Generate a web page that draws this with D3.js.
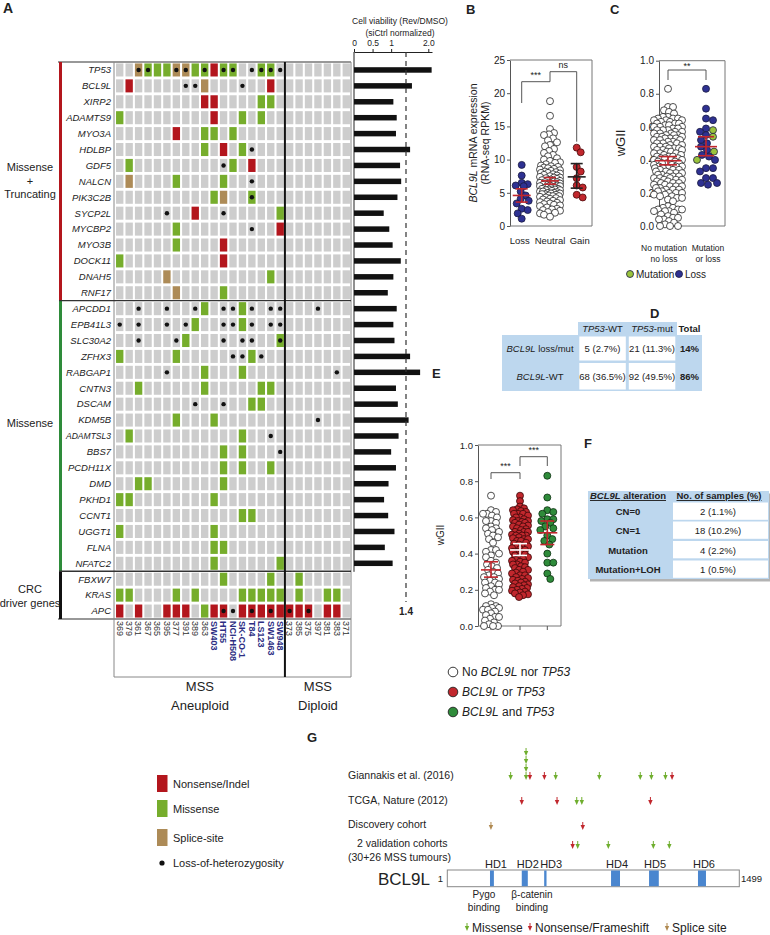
<!DOCTYPE html>
<html>
<head>
<meta charset="utf-8">
<script src="https://cdn.jsdelivr.net/npm/d3@7"></script>
<style>
  body { margin: 0; background: #fff; }
  text { font-family: "Liberation Sans", Arial, sans-serif; fill: #222; }
</style>
</head>
<body>
<script>
// ---------- panel A data ----------
const genes = ["TP53", "BCL9L", "XIRP2", "ADAMTS9", "MYO3A", "HDLBP", "GDF5", "NALCN", "PIK3C2B", "SYCP2L",
  "MYCBP2", "MYO3B", "DOCK11", "DNAH5", "RNF17",
  "APCDD1", "EPB41L3", "SLC30A2", "ZFHX3", "RABGAP1", "CNTN3", "DSCAM", "KDM5B", "ADAMTSL3", "BBS7",
  "PCDH11X", "DMD", "PKHD1", "CCNT1", "UGGT1", "FLNA", "NFATC2",
  "FBXW7", "KRAS", "APC"];
const groupSizes = [15, 17, 3];
const groupLabels = [["Missense", "+", "Truncating"], ["Missense"], ["CRC", "driver genes"]];
const samples = ["369", "379", "361", "367", "365", "395", "377", "391", "389", "363",
  "SW403", "HT55", "NCI-H508", "SK-CO-1", "T84", "LS123", "SW1463", "SW948",
  "373", "385", "375", "397", "381", "383", "371"];
const cellLines = ["SW403", "HT55", "NCI-H508", "SK-CO-1", "T84", "LS123", "SW1463", "SW948"];
const nAneuploid = 18;
// N = nonsense/indel, M = missense, S = splice-site (one char per sample)
const mutRows = [
  "..SMM MSSMM NMM.. MM... .....", // TP53
  ".N... ....S ..... .N... .....", // BCL9L
  "..... ....N N.... MM... .....", // XIRP2
  "M.... ..... N..M. M.... .....", // ADAMTS9
  "..... .N..M M.M.. ..... .....", // MYO3A
  "..... ....M .N.M. ..... .....", // HDLBP
  ".M... ..... ..M.N ..... .....", // GDF5
  ".S... .M... .M... ..... .....", // NALCN
  "..... ..... MS..M ..... .....", // PIK3C2B
  "..... ...N. ..... ..M.. .....", // SYCP2L
  "..... .M... ..... ..N.. .....", // MYCBP2
  "..... .M... .N... ..... .....", // MYO3B
  "M.... ..... .N... ..... .....", // DOCK11
  "..... S.... ..... .M... .....", // DNAH5
  "..... .S... .M... ..... .....", // RNF17
  "..... ....M ...M. ..... .....", // APCDD1
  "..... ...M. ...M. ..... .....", // EPB41L3
  "..... ..M.. ..... ..M.. .....", // SLC30A2
  "M.... .M... ....M ..... .....", // ZFHX3
  "..... ....M ...M. ..... .....", // RABGAP1
  "..M.. ....M ..... MM... .....", // CNTN3
  "..... ..... ....M M.... .....", // DSCAM
  "..... .M... M.... ..... .....", // KDM5B
  ".M... ..... ...M. ..... .....", // ADAMTSL3
  "..... ..... .M.M. ..... .....", // BBS7
  "..... ..... .M.M. .M... .....", // PCDH11X
  "..MM. ..... .M... ..... .....", // DMD
  "MM... ..... M.... ..... .....", // PKHD1
  "..... ..... ...MM ..... .....", // CCNT1
  "M.... ..... M.... ..... .....", // UGGT1
  "..... ..... MM... ..... .....", // FLNA
  "..... ..... M.... ..M.. .....", // NFATC2
  "..... ..... .M... .M..M .....", // FBXW7
  "MM... .M.M. ...MM MMM.M ..MM.", // KRAS
  "N.N.. NNN.M NN.NN NNNNN N.NN."  // APC
];
// * = loss of heterozygosity
const lohRows = [
  "..**. .**.* .**.* ***.. .....", // TP53
  "..... ..**. ...*. ..... .....", // BCL9L
  "..... ..... ..... ..... .....",
  "..... ..... ..... ..... .....",
  "..... ..... ..... ..... .....",
  "..... ..... ....* ..... .....", // HDLBP
  "..... ..... .*... ..... .....", // GDF5
  "..... ..... ....* ..... .....", // NALCN
  "..... ..... ....* ..... .....", // PIK3C2B
  "..... *.... .*... ..... .....", // SYCP2L
  "..... ..... ....* ..... .....", // MYCBP2
  "..... ..... ..... ..... .....",
  "..... ..... ..... ..... .....",
  "..... ..... ..... ..... .....",
  "..... ..... ..... ..... .....",
  "..*.. *..*. .**.* .**.. .*...", // APCDD1
  "*.*.. *.*.. .**.* .**.. .....", // EPB41L3
  "..*.. .*... .*.** ..*.. .....", // SLC30A2
  "..... ..... ..**. *.... .....", // ZFHX3
  "..... *.... ..... ..... ...*.", // RABGAP1
  "..... ..... ..... ..... .....",
  "..... ...*. .*... ..... .....", // DSCAM
  "..... ..... ..... ..... .*...", // KDM5B
  "..... ..... ..... .*... .....", // ADAMTSL3
  "..... ..... ..... ..*.. .....", // BBS7
  "..... ..... ..... ..... .....",
  "..... ..... ..... ..... .....",
  "..... ..... ..... ..... .....",
  "..... ..... ..... ..... .....",
  "..... ..... ..... ..... .....",
  "..... ..... ..... ..... .....",
  "..... ..... ..... ..... .....",
  "..... ..... ..... ..... .....",
  "..... ..... ..... ..... .....",
  "..... ..... .**.* .*.*. *...."  // APC
];
// cell viability (Rev/DMSO), one per gene except CRC driver genes
const viability = [2.09, 1.56, 1.06, 1.15, 1.13, 1.51, 1.24, 1.27, 1.17, 0.80, 0.95, 1.04, 1.26, 1.06, 0.91,
  1.15, 1.06, 1.09, 1.51, 1.78, 1.13, 1.18, 1.47, 1.20, 1.00, 1.13, 0.93, 0.81, 0.92, 1.09, 0.83, 1.04];
const viabTicks = [0, 0.5, 1, 2];
const viabTickLabels = ["0", "0.5", "1", "2.0"];
const viabThreshold = 1.4;

// ---------- panel B data ----------
const exprCats = ["Loss", "Neutral", "Gain"];
const exprLoss = [9.2, 7.6, 6.5, 6.3, 6.1, 6.0, 5.2, 4.6, 4.1, 3.8, 3.4, 2.6, 2.4, 1.9, 1.1];
const exprNeutral = [18.8, 16.6, 14.6, 14.0, 13.8, 13.7, 13.2, 12.9, 12.6, 12.2, 12.0, 11.6, 11.3, 11.0, 10.7,
  10.5, 10.2, 10.0, 9.8, 9.6, 9.5, 9.3, 9.1, 9.0, 8.9, 8.8, 8.7, 8.6, 8.5, 8.4, 8.3, 8.2, 8.1, 8.0, 7.9, 7.8,
  7.7, 7.6, 7.5, 7.4, 7.3, 7.2, 7.1, 7.0, 6.9, 6.9, 6.8, 6.7, 6.6, 6.5, 6.5, 6.4, 6.3, 6.2, 6.2, 6.1, 6.0,
  6.0, 5.9, 5.8, 5.8, 5.7, 5.6, 5.6, 5.5, 5.4, 5.4, 5.3, 5.2, 5.2, 5.1, 5.0, 5.0, 4.9, 4.8, 4.8, 4.7, 4.6,
  4.5, 4.5, 4.4, 4.3, 4.2, 4.1, 4.0, 3.9, 3.8, 3.7, 3.6, 3.5, 3.4, 3.3, 3.2, 3.1, 3.0, 2.8, 2.6, 2.5, 2.4,
  2.3, 2.1, 2.0, 1.9, 1.7, 1.4, 7.3, 6.6, 5.5, 4.9, 6.1, 8.0];
const exprGain = [11.8, 11.1, 8.9, 8.2, 7.2, 6.1, 5.8, 4.7, 4.3];
const exprMean = [4.6, 6.8, 7.4];
const exprLow = [3.6, 6.3, 5.7];
const exprHigh = [5.6, 7.3, 9.4];
const exprTicks = [0, 5, 10, 15, 20, 25];

// ---------- panel C data ----------
const wgiiNoMut = [0.83, 0.72, 0.72, 0.70, 0.69, 0.68, 0.66, 0.66, 0.65, 0.65, 0.65, 0.64, 0.64, 0.64, 0.63,
  0.63, 0.62, 0.62, 0.62, 0.61, 0.61, 0.60, 0.60, 0.60, 0.59, 0.59, 0.58, 0.58, 0.57, 0.57, 0.56, 0.56, 0.55,
  0.55, 0.55, 0.54, 0.54, 0.53, 0.53, 0.52, 0.52, 0.51, 0.51, 0.50, 0.50, 0.49, 0.49, 0.48, 0.48, 0.47, 0.47,
  0.46, 0.46, 0.45, 0.45, 0.44, 0.44, 0.43, 0.43, 0.42, 0.42, 0.41, 0.41, 0.40, 0.40, 0.39, 0.39, 0.38, 0.38,
  0.37, 0.37, 0.36, 0.36, 0.35, 0.35, 0.34, 0.34, 0.33, 0.33, 0.32, 0.32, 0.31, 0.31, 0.30, 0.30, 0.29, 0.29,
  0.28, 0.28, 0.27, 0.27, 0.26, 0.26, 0.25, 0.25, 0.24, 0.24, 0.23, 0.23, 0.22, 0.22, 0.21, 0.21, 0.20, 0.20,
  0.20, 0.19, 0.19, 0.18, 0.18, 0.17, 0.17, 0.16, 0.15, 0.12, 0.11, 0.11, 0.10, 0.10, 0.10, 0.09, 0.09, 0.09,
  0.08, 0.07, 0.06, 0.05, 0.05, 0.04, 0.04, 0.03, 0.02, 0.01, 0.00, 0.00, 0.00,
  0.58, 0.56, 0.54, 0.52, 0.50, 0.48, 0.46, 0.44, 0.42, 0.40, 0.38, 0.36, 0.34, 0.32, 0.30, 0.28, 0.26, 0.24,
  0.22, 0.53, 0.47, 0.41, 0.35, 0.29];
const wgiiMutLoss = [0.83, 0.71, 0.65, 0.64, 0.59, 0.58, 0.57, 0.55, 0.54, 0.52, 0.50, 0.48, 0.46, 0.45, 0.43,
  0.42, 0.40, 0.40, 0.35, 0.35, 0.33, 0.29, 0.29, 0.26, 0.26, 0.25];
const mutLossType = ["loss", "loss", "loss", "loss", "loss", "mut", "loss", "loss", "mut", "loss", "loss", "loss",
  "loss", "mut", "loss", "loss", "loss", "mut", "loss", "loss", "loss", "loss", "loss", "loss", "loss", "loss"];
const wgiiCMean = [0.395, 0.48];
const wgiiCLow = [0.37, 0.425];
const wgiiCHigh = [0.42, 0.54];
const wgiiTicks = [0, 0.2, 0.4, 0.6, 0.8, 1.0];

// ---------- panel D data ----------
const dColHeads = [["TP53", "-WT"], ["TP53", "-mut"]];
const dRowHeads = [["BCL9L", " loss/mut"], ["BCL9L", "-WT"]];
const dCells = [["5 (2.7%)", "21 (11.3%)"], ["68 (36.5%)", "92 (49.5%)"]];
const dTotals = ["14%", "86%"];

// ---------- panel E data ----------
const wgiiNone = [0.72, 0.64, 0.63, 0.62, 0.62, 0.61, 0.60, 0.58, 0.58, 0.57, 0.55, 0.54, 0.54, 0.53, 0.52,
  0.51, 0.50, 0.49, 0.48, 0.46, 0.42, 0.42, 0.41, 0.40, 0.39, 0.38, 0.36, 0.35, 0.34, 0.33, 0.32, 0.31, 0.30,
  0.29, 0.28, 0.27, 0.26, 0.25, 0.24, 0.24, 0.23, 0.22, 0.21, 0.20, 0.20, 0.19, 0.18, 0.17, 0.12, 0.11, 0.11,
  0.10, 0.10, 0.09, 0.09, 0.08, 0.07, 0.06, 0.05, 0.05, 0.04, 0.03, 0.02, 0.01, 0.00, 0.00, 0.00, 0.27];
const wgiiOne = [0.72, 0.69, 0.66, 0.65, 0.645, 0.64, 0.635, 0.63, 0.62, 0.62, 0.61, 0.60, 0.60, 0.59, 0.585,
  0.58, 0.575, 0.57, 0.56, 0.555, 0.55, 0.55, 0.54, 0.535, 0.53, 0.52, 0.52, 0.51, 0.505, 0.50, 0.50, 0.49,
  0.485, 0.48, 0.47, 0.47, 0.46, 0.455, 0.45, 0.44, 0.44, 0.43, 0.425, 0.42, 0.41, 0.41, 0.40, 0.395, 0.39,
  0.38, 0.38, 0.37, 0.365, 0.36, 0.355, 0.35, 0.34, 0.34, 0.33, 0.325, 0.32, 0.31, 0.31, 0.30, 0.295, 0.29,
  0.28, 0.28, 0.27, 0.265, 0.26, 0.255, 0.25, 0.245, 0.24, 0.235, 0.23, 0.225, 0.22, 0.215, 0.21, 0.205, 0.20,
  0.195, 0.19, 0.185, 0.18, 0.175, 0.17, 0.16, 0.44, 0.48, 0.52, 0.57, 0.62, 0.58, 0.50];
const wgiiBoth = [0.83, 0.71, 0.64, 0.63, 0.62, 0.59, 0.59, 0.58, 0.57, 0.55, 0.54, 0.53, 0.50, 0.48, 0.47,
  0.45, 0.40, 0.35, 0.35, 0.29, 0.26];
const wgiiEMean = [0.31, 0.42, 0.515];
const wgiiELow = [0.27, 0.39, 0.45];
const wgiiEHigh = [0.355, 0.455, 0.58];

// ---------- panel F data ----------
const fAlterations = ["CN=0", "CN=1", "Mutation", "Mutation+LOH"];
const fSamples = ["2 (1.1%)", "18 (10.2%)", "4 (2.2%)", "1 (0.5%)"];

// ---------- panel G data ----------
const cohorts = ["Giannakis et al. (2016)", "TCGA, Nature (2012)", "Discovery cohort", "2 validation cohorts"];
const giannakisPos = [326, 405, 405, 405, 405, 425, 499, 557, 781, 991, 1048, 1120, 1154];
const giannakisType = ["mis", "mis", "mis", "mis", "mis", "non", "non", "mis", "mis", "mis", "mis", "mis", "non"];
const tcgaPos = [383, 564, 665, 691, 1043];
const tcgaType = ["non", "non", "mis", "mis", "non"];
const discoveryPos = [225, 696];
const discoveryType = ["spl", "non"];
const validationPos = [644, 670, 827, 1058, 1140];
const validationType = ["non", "mis", "mis", "mis", "mis"];
const domainNames = ["HD1", "HD2", "HD3", "HD4", "HD5", "HD6"];
const domainStart = [220, 383, 498, 841, 1036, 1287];
const domainEnd = [240, 414, 510, 887, 1086, 1328];
const proteinLength = 1499;

(function app() {
  const svg = d3.select("body").append("svg").attr("width", 770).attr("height", 935);

  const C = {
    non: "#b3161d", mis: "#76ad2c", spl: "#ad8b57", cell: "#cdcdcd",
    navy: "#2d2e83", blue: "#2e3192", red: "#c1272d", dgreen: "#2e8b3a", lgreen: "#9ac43c",
    tblue: "#bdd7ee"
  };
  const clean = s => s.replace(/ /g, "");

  function label(x, y, t, size) {
    svg.append("text").attr("x", x).attr("y", y).attr("font-size", size || 13)
      .attr("font-weight", "bold").text(t);
  }

  // ================= Panel A =================
  label(3, 13, "A", 14);
  const colX = d3.scaleBand().domain(d3.range(samples.length)).range([115, 351])
    .paddingInner(0.22).paddingOuter(0.11);
  const rowY = d3.scaleBand().domain(genes).range([62, 619]).paddingInner(0.18).paddingOuter(0.09);
  const step = colX.step();
  const divX = colX(nAneuploid) - (step - colX.bandwidth()) / 2;

  const hm = svg.append("g").attr("class", "heatmap");
  genes.forEach((g, i) => {
    const muts = clean(mutRows[i]);
    const loh = clean(lohRows[i]);
    samples.forEach((s, j) => {
      const code = muts[j];
      hm.append("rect")
        .attr("x", colX(j)).attr("y", rowY(g))
        .attr("width", colX.bandwidth()).attr("height", rowY.bandwidth())
        .attr("fill", code === "N" ? C.non : code === "M" ? C.mis : code === "S" ? C.spl : C.cell);
      if (loh[j] === "*") {
        hm.append("circle")
          .attr("cx", colX(j) + colX.bandwidth() / 2).attr("cy", rowY(g) + rowY.bandwidth() / 2)
          .attr("r", 2.2).attr("fill", "#111");
      }
    });
    const t = hm.append("text")
      .attr("x", 111).attr("y", rowY(g) + rowY.bandwidth() / 2)
      .attr("dy", "0.35em").attr("text-anchor", "end")
      .attr("font-size", 9.5).attr("font-style", "italic").text(g);
    if (t.node().getComputedTextLength() > 45) {
      t.attr("textLength", 45).attr("lengthAdjust", "spacingAndGlyphs");
    }
  });

  // frames and group separators
  const frame = svg.append("g").attr("class", "frame");
  const yTop = 62, yBot = 619;
  frame.append("line").attr("x1", 58).attr("x2", 351).attr("y1", yTop).attr("y2", yTop)
    .attr("stroke", "#333").attr("stroke-width", 1.2);
  frame.append("line").attr("x1", 58).attr("x2", 351).attr("y1", yBot).attr("y2", yBot)
    .attr("stroke", "#333").attr("stroke-width", 1.2);
  frame.append("line").attr("x1", 114).attr("x2", 114).attr("y1", yTop).attr("y2", 677)
    .attr("stroke", "#888").attr("stroke-width", 1);
  frame.append("line").attr("x1", 351).attr("x2", 351).attr("y1", yTop).attr("y2", 677)
    .attr("stroke", "#888").attr("stroke-width", 1);
  frame.append("line").attr("x1", 114).attr("x2", 351).attr("y1", 677).attr("y2", 677)
    .attr("stroke", "#888").attr("stroke-width", 1);

  const groupColors = [C.non, "#2e8b3a", "#111"];
  const groupLabelY = [171, 427, 593];
  let start = 0;
  groupSizes.forEach((n, gi) => {
    const gTop = gi === 0 ? yTop : rowY(genes[start]) - rowY.step() * rowY.paddingInner() / 2;
    const gEnd = start + n - 1;
    const gBot = gi === groupSizes.length - 1 ? yBot
      : rowY(genes[gEnd]) + rowY.bandwidth() + rowY.step() * rowY.paddingInner() / 2;
    frame.append("rect").attr("x", 59).attr("y", gTop).attr("width", 3).attr("height", gBot - gTop)
      .attr("fill", groupColors[gi]);
    if (gi > 0) {
      frame.append("line").attr("x1", 59).attr("x2", 351).attr("y1", gTop).attr("y2", gTop)
        .attr("stroke", "#333").attr("stroke-width", 1.3);
    }
    groupLabels[gi].forEach((t, k) => {
      svg.append("text").attr("x", 30).attr("y", groupLabelY[gi] + k * 13.5)
        .attr("text-anchor", "middle").attr("font-size", 11).text(t);
    });
    start += n;
  });
  frame.append("line").attr("x1", divX).attr("x2", divX).attr("y1", yTop).attr("y2", 677)
    .attr("stroke", "#111").attr("stroke-width", 2);

  // sample labels
  svg.append("g").selectAll("text").data(samples).enter().append("text")
    .attr("transform", (d, j) => `translate(${colX(j) + colX.bandwidth() / 2},621) rotate(90)`)
    .attr("dy", "0.35em").attr("font-size", 9)
    .attr("font-weight", d => cellLines.includes(d) ? "bold" : "normal")
    .style("fill", d => cellLines.includes(d) ? C.navy : "#333")
    .text(d => d);

  const aneuMid = (115 + divX) / 2, dipMid = (divX + 351) / 2;
  [["MSS", "Aneuploid", aneuMid], ["MSS", "Diploid", dipMid]].forEach(d => {
    svg.append("text").attr("x", d[2]).attr("y", 691).attr("text-anchor", "middle").attr("font-size", 13).text(d[0]);
    svg.append("text").attr("x", d[2]).attr("y", 710).attr("text-anchor", "middle").attr("font-size", 13).text(d[1]);
  });

  // viability bars
  const xv = d3.scaleLinear().domain([0, 2.1]).range([354, 432]);
  const bars = svg.append("g").attr("class", "viability");
  bars.append("text").attr("x", 400).attr("y", 24).attr("text-anchor", "middle").attr("font-size", 8.5)
    .text("Cell viability (Rev/DMSO)");
  bars.append("text").attr("x", 400).attr("y", 36).attr("text-anchor", "middle").attr("font-size", 8.5)
    .text("(siCtrl normalized)");
  const ax = bars.append("g").attr("transform", "translate(0,52)")
    .call(d3.axisTop(xv).tickValues(viabTicks).tickFormat((d, i) => viabTickLabels[i]).tickSize(3).tickSizeOuter(0));
  ax.selectAll("text").attr("font-size", 8.5).attr("font-family", "Liberation Sans, Arial, sans-serif").style("fill", "#222");
  ax.selectAll("path,line").attr("stroke", "#222");
  const lastBarGene = genes[viability.length - 1];
  bars.append("line").attr("x1", xv(0)).attr("x2", xv(0)).attr("y1", 52)
    .attr("y2", rowY(lastBarGene) + rowY.bandwidth() + 2).attr("stroke", "#222");
  bars.selectAll("rect").data(viability).enter().append("rect")
    .attr("x", xv(0)).attr("y", (d, i) => rowY(genes[i]) + rowY.bandwidth() / 2 - 2.75)
    .attr("width", d => xv(d) - xv(0)).attr("height", 5.5).attr("fill", "#111");
  bars.append("line").attr("x1", xv(viabThreshold)).attr("x2", xv(viabThreshold))
    .attr("y1", 52).attr("y2", 602).attr("stroke", "#333").attr("stroke-width", 1.2)
    .attr("stroke-dasharray", "5,4");
  bars.append("text").attr("x", xv(viabThreshold)).attr("y", 615).attr("text-anchor", "middle")
    .attr("font-size", 10).attr("font-weight", "bold").text(viabThreshold);

  // legend A
  const legA = [["Nonsense/Indel", C.non, 775], ["Missense", C.mis, 800], ["Splice-site", C.spl, 829]];
  legA.forEach(d => {
    svg.append("rect").attr("x", 157).attr("y", d[2]).attr("width", 10.5).attr("height", 17).attr("fill", d[1]);
    svg.append("text").attr("x", 173).attr("y", d[2] + 12.5).attr("font-size", 11).text(d[0]);
  });
  svg.append("circle").attr("cx", 162).attr("cy", 863).attr("r", 2.6).attr("fill", "#111");
  svg.append("text").attr("x", 173).attr("y", 867).attr("font-size", 11).text("Loss-of-heterozygosity");

  // ================= helpers for dot plots =================
  function swarm(vals, y, cx, dist, maxHalf) {
    const pts = vals.map((v, i) => ({ v, i, y: y(v) })).sort((a, b) => a.y - b.y);
    const placed = [];
    const offs = [0];
    for (let k = 1; k <= maxHalf; k++) offs.push(k, -k);
    pts.forEach(p => {
      let bestOff = 0, bestD = -1;
      for (const o of offs) {
        let dmin = Infinity;
        for (const q of placed) {
          const dy = q.y - p.y;
          if (Math.abs(dy) >= dist) continue;
          const dd = Math.hypot(q.x - (cx + o), dy);
          if (dd < dmin) dmin = dd;
        }
        if (dmin >= dist) { bestOff = o; bestD = dmin; break; }
        if (dmin > bestD) { bestD = dmin; bestOff = o; }
      }
      p.x = cx + bestOff;
      placed.push(p);
    });
    return pts;
  }
  function dots(g, pts, fill, stroke, r) {
    g.append("g").selectAll("circle").data(pts).enter().append("circle")
      .attr("cx", d => d.x).attr("cy", d => d.y).attr("r", r)
      .attr("fill", typeof fill === "function" ? fill : () => fill)
      .attr("stroke", stroke).attr("stroke-width", 0.8);
  }
  function meanBar(g, x, y, m, lo, hi, color, hw, cw) {
    const ln = (x1, y1, x2, y2) => g.append("line").attr("x1", x1).attr("y1", y1).attr("x2", x2).attr("y2", y2)
      .attr("stroke", color).attr("stroke-width", 1.6);
    ln(x - hw, y(m), x + hw, y(m));
    ln(x, y(lo), x, y(hi));
    ln(x - cw, y(lo), x + cw, y(lo));
    ln(x - cw, y(hi), x + cw, y(hi));
  }
  function frameAxis(g, y, x0, x1, ticks, fmt, fs) {
    const a = g.append("g").attr("transform", `translate(${x0},0)`)
      .call(d3.axisLeft(y).tickValues(ticks).tickFormat(fmt).tickSize(3).tickPadding(2).tickSizeOuter(0));
    a.selectAll("text").attr("font-size", fs).attr("font-family", "Liberation Sans, Arial, sans-serif").style("fill", "#222");
    a.selectAll("path,line").attr("stroke", "#555");
    const [yb, yt] = y.range();
    g.append("path").attr("d", `M${x0},${yt}H${x1}V${yb}H${x0}`).attr("fill", "none").attr("stroke", "#777");
  }
  function bracket(g, x1, x2, yTopB, yL, yR, txt, ty) {
    g.append("path").attr("d", `M${x1},${yL}V${yTopB}H${x2}V${yR}`).attr("fill", "none")
      .attr("stroke", "#444").attr("stroke-width", 0.9);
    g.append("text").attr("x", (x1 + x2) / 2).attr("y", ty).attr("text-anchor", "middle")
      .attr("font-size", 9).text(txt);
  }

  // ================= Panel B =================
  label(466, 14, "B");
  const gB = svg.append("g");
  const yB = d3.scaleLinear().domain([0, 25]).range([226, 60]);
  const xB = [521.7, 550, 576.7];
  frameAxis(gB, yB, 510, 592, exprTicks, d3.format("d"), 10);
  dots(gB, swarm(exprLoss, yB, xB[0], 6, 8), C.blue, "#1a1a40", 3.5);
  dots(gB, swarm(exprNeutral, yB, xB[1], 5, 10), "#fff", "#222", 3.5);
  dots(gB, swarm(exprGain, yB, xB[2], 6, 8), C.red, "#4a0a0a", 3.5);
  const bColors = [C.red, C.red, "#222"];
  exprCats.forEach((c, i) => {
    meanBar(gB, xB[i], yB, exprMean[i], exprLow[i], exprHigh[i], bColors[i], 9, 6);
    gB.append("text").attr("x", xB[i] + (i === 0 ? -2 : i === 2 ? 3 : 0)).attr("y", 244)
      .attr("text-anchor", "middle").attr("font-size", 9.5).text(c);
  });
  bracket(gB, xB[0], xB[1], 81.7, 103, 81.7, "***", 78);
  bracket(gB, xB[1], xB[2], 71.7, 81.7, 141.7, "ns", 68);
  const yl1 = gB.append("text").attr("transform", "translate(477,143) rotate(-90)")
    .attr("text-anchor", "middle").attr("font-size", 10.5);
  yl1.append("tspan").attr("font-style", "italic").text("BCL9L");
  yl1.append("tspan").text(" mRNA expression");
  gB.append("text").attr("transform", "translate(489,143) rotate(-90)")
    .attr("text-anchor", "middle").attr("font-size", 10.5).text("(RNA-seq RPKM)");

  // ================= Panel C =================
  label(610, 14, "C");
  const gC = svg.append("g");
  const yC = d3.scaleLinear().domain([0, 1]).range([226, 60.7]);
  const xC = [668, 706];
  frameAxis(gC, yC, 659, 725, wgiiTicks, d3.format(".1f"), 10);
  dots(gC, swarm(wgiiNoMut, yC, xC[0], 5, 14), "#fff", "#222", 3.5);
  const mlPts = swarm(wgiiMutLoss, yC, xC[1], 6.5, 11);
  dots(gC, mlPts, d => mutLossType[d.i] === "mut" ? C.lgreen : C.blue, "#1a1a40", 3.5);
  meanBar(gC, xC[0], yC, wgiiCMean[0], wgiiCLow[0], wgiiCHigh[0], C.red, 13, 9);
  meanBar(gC, xC[1], yC, wgiiCMean[1], wgiiCLow[1], wgiiCHigh[1], C.red, 11, 8);
  bracket(gC, xC[0], xC[1], 70, 80, 80, "**", 69);
  gC.append("text").attr("transform", "translate(625,143) rotate(-90)")
    .attr("text-anchor", "middle").attr("font-size", 13).text("wGII");
  const xCLab = [664, 708];
  [["No mutation", "no loss"], ["Mutation", "or loss"]].forEach((d, i) => {
    gC.append("text").attr("x", xCLab[i]).attr("y", 251).attr("text-anchor", "middle").attr("font-size", 8.5).text(d[0]);
    gC.append("text").attr("x", xCLab[i]).attr("y", 262).attr("text-anchor", "middle").attr("font-size", 8.5).text(d[1]);
  });
  [["Mutation", C.lgreen, 630], ["Loss", C.blue, 679]].forEach(d => {
    gC.append("circle").attr("cx", d[2]).attr("cy", 274).attr("r", 3.5).attr("fill", d[1]).attr("stroke", "#1a1a40").attr("stroke-width", 0.8);
    gC.append("text").attr("x", d[2] + 6).attr("y", 277.5).attr("font-size", 10).text(d[0]);
  });

  // ================= Panel D =================
  label(650, 318, "D");
  const gD = svg.append("g");
  gD.append("rect").attr("x", 502).attr("y", 335).attr("width", 200).attr("height", 56).attr("fill", C.tblue);
  gD.append("rect").attr("x", 578).attr("y", 322).attr("width", 99).attr("height", 13).attr("fill", C.tblue);
  const dColX = [602.5, 652];
  const dRowTop = [336.5, 363];
  const dRowH = [24, 26.5];
  dCells.forEach((row, r) => row.forEach((v, c) => {
    gD.append("rect").attr("x", dColX[c] - 23.2).attr("y", dRowTop[r]).attr("width", 46.5).attr("height", dRowH[r]).attr("fill", "#fff");
  }));
  dColHeads.forEach((h, c) => {
    const t = gD.append("text").attr("x", dColX[c]).attr("y", 332).attr("text-anchor", "middle").attr("font-size", 9.5);
    t.append("tspan").attr("font-style", "italic").text(h[0]);
    t.append("tspan").text(h[1]);
  });
  gD.append("text").attr("x", 689.5).attr("y", 332).attr("text-anchor", "middle").attr("font-size", 9.5)
    .attr("font-weight", "bold").text("Total");
  const dRowY = [352, 380];
  dRowHeads.forEach((h, r) => {
    const t = gD.append("text").attr("x", 540).attr("y", dRowY[r]).attr("text-anchor", "middle").attr("font-size", 9.5);
    t.append("tspan").attr("font-style", "italic").text(h[0]);
    t.append("tspan").text(h[1]);
    dCells[r].forEach((v, c) => {
      gD.append("text").attr("x", dColX[c]).attr("y", dRowY[r]).attr("text-anchor", "middle").attr("font-size", 9.5).text(v);
    });
    gD.append("text").attr("x", 689.5).attr("y", dRowY[r]).attr("text-anchor", "middle").attr("font-size", 9.5)
      .attr("font-weight", "bold").text(dTotals[r]);
  });

  // ================= Panel E =================
  label(432, 378, "E");
  const gE = svg.append("g");
  const yE = d3.scaleLinear().domain([0, 1]).range([626, 445]);
  const xE = [491, 520, 547.3];
  frameAxis(gE, yE, 478, 561, wgiiTicks, d3.format(".1f"), 9.5);
  xE.forEach(x => gE.append("line").attr("x1", x).attr("x2", x).attr("y1", 626).attr("y2", 630).attr("stroke", "#555"));
  dots(gE, swarm(wgiiNone, yE, xE[0], 4.8, 8), "#fff", "#222", 3.5);
  dots(gE, swarm(wgiiOne, yE, xE[1], 4, 8), C.red, "#3a0808", 3.5);
  dots(gE, swarm(wgiiBoth, yE, xE[2], 6, 8), C.dgreen, "#0e3012", 3.5);
  const eColors = [C.red, "#fff", C.red];
  xE.forEach((x, i) => meanBar(gE, x, yE, wgiiEMean[i], wgiiELow[i], wgiiEHigh[i], eColors[i], 10, 7));
  bracket(gE, xE[0], xE[1], 472.7, 479, 479, "***", 469);
  bracket(gE, xE[1], xE[2], 456.7, 466, 466, "***", 453);
  gE.append("text").attr("transform", "translate(444,535) rotate(-90)")
    .attr("text-anchor", "middle").attr("font-size", 10).text("wGII");
  const legE = [
    [["No ", 0], ["BCL9L", 1], [" nor ", 0], ["TP53", 1]],
    [["BCL9L", 1], [" or ", 0], ["TP53", 1]],
    [["BCL9L", 1], [" and ", 0], ["TP53", 1]]
  ];
  const legEFill = ["#fff", C.red, C.dgreen];
  legE.forEach((parts, i) => {
    const y = 672 + i * 20;
    gE.append("circle").attr("cx", 453).attr("cy", y).attr("r", 4.8).attr("fill", legEFill[i])
      .attr("stroke", "#222").attr("stroke-width", 0.9);
    const t = gE.append("text").attr("x", 462).attr("y", y + 4.3).attr("font-size", 12);
    parts.forEach(p => t.append("tspan").attr("font-style", p[1] ? "italic" : "normal").text(p[0]));
  });

  // ================= Panel F =================
  label(584, 448, "F");
  const gF = svg.append("g");
  gF.append("rect").attr("x", 590).attr("y", 493.5).attr("width", 181).attr("height", 88).attr("fill", "#b3b3b3");
  gF.append("rect").attr("x", 588).attr("y", 491).attr("width", 181).attr("height", 88).attr("fill", C.tblue);
  const fRowTop = [502.5, 521.5, 541, 560.5];
  fAlterations.forEach((a, i) => {
    gF.append("rect").attr("x", 673).attr("y", fRowTop[i]).attr("width", 95).attr("height", 17.3).attr("fill", "#fff");
    gF.append("text").attr("x", 628).attr("y", fRowTop[i] + 12.5).attr("text-anchor", "middle")
      .attr("font-size", 9.5).attr("font-weight", "bold").text(a);
    gF.append("text").attr("x", 718).attr("y", fRowTop[i] + 12.5).attr("text-anchor", "middle")
      .attr("font-size", 9.5).text(fSamples[i]);
  });
  const fh = gF.append("text").attr("x", 628).attr("y", 499).attr("text-anchor", "middle")
    .attr("font-size", 9.5).attr("font-weight", "bold").attr("text-decoration", "underline");
  fh.append("tspan").attr("font-style", "italic").text("BCL9L");
  fh.append("tspan").text(" alteration");
  gF.append("text").attr("x", 719).attr("y", 499).attr("text-anchor", "middle")
    .attr("font-size", 9.5).attr("font-weight", "bold").attr("text-decoration", "underline")
    .text("No. of samples (%)");

  // ================= Panel G =================
  label(307, 742, "G");
  const gG = svg.append("g");
  const xp = d3.scaleLinear().domain([1, proteinLength]).range([447.3, 739.3]);
  const tColor = { mis: "#6fae2e", non: "#c1272d", spl: "#b08a52" };
  function tack(x, yTip, type) {
    gG.append("line").attr("x1", x).attr("x2", x).attr("y1", yTip - 8).attr("y2", yTip - 4.5)
      .attr("stroke", tColor[type]).attr("stroke-width", 1);
    gG.append("path").attr("d", `M${x - 2.2},${yTip - 5}L${x + 2.2},${yTip - 5}L${x},${yTip}Z`).attr("fill", tColor[type]);
  }
  const tracks = [[giannakisPos, giannakisType, 780], [tcgaPos, tcgaType, 805],
    [discoveryPos, discoveryType, 830], [validationPos, validationType, 849]];
  tracks.forEach(([pos, typ, yTip]) => {
    const seen = {};
    pos.forEach((p, i) => {
      const k = p + typ[i];
      seen[k] = (seen[k] || 0) + 1;
      tack(xp(p), yTip - (seen[k] - 1) * 8, typ[i]);
    });
  });
  const cohortY = [779, 804, 828, 847];
  cohorts.forEach((c, i) => {
    gG.append("text").attr("x", i === 3 ? 357 : 348).attr("y", cohortY[i]).attr("font-size", 10.5).text(c);
  });
  gG.append("text").attr("x", 348).attr("y", 861).attr("font-size", 10.5).text("(30+26 MSS tumours)");
  gG.append("rect").attr("x", xp(1)).attr("y", 870).attr("width", xp(proteinLength) - xp(1)).attr("height", 16.7)
    .attr("fill", "#fff").attr("stroke", "#888").attr("stroke-width", 1);
  domainNames.forEach((d, i) => {
    gG.append("rect").attr("x", xp(domainStart[i])).attr("y", 870.5)
      .attr("width", xp(domainEnd[i]) - xp(domainStart[i])).attr("height", 15.7).attr("fill", "#4a86cf");
    gG.append("text").attr("x", xp(domainStart[i]) - (i === 2 ? 4 : 5)).attr("y", 868)
      .attr("font-size", 11).text(d);
  });
  gG.append("text").attr("x", 378).attr("y", 885).attr("font-size", 17).text("BCL9L");
  gG.append("text").attr("x", 443).attr("y", 882).attr("text-anchor", "end").attr("font-size", 9.5).text("1");
  gG.append("text").attr("x", 741).attr("y", 882).attr("font-size", 9.5).text(proteinLength);
  [["Pygo", "binding", 484], ["β-catenin", "binding", 532]].forEach(d => {
    gG.append("text").attr("x", d[2]).attr("y", 898).attr("text-anchor", "middle").attr("font-size", 10).text(d[0]);
    gG.append("text").attr("x", d[2]).attr("y", 911).attr("text-anchor", "middle").attr("font-size", 10).text(d[1]);
  });
  [["Missense", "mis", 467], ["Nonsense/Frameshift", "non", 530], ["Splice site", "spl", 667]].forEach(d => {
    tack(d[2], 931, d[1]);
    gG.append("text").attr("x", d[2] + 5).attr("y", 932).attr("font-size", 12).text(d[0]);
  });
})();
</script>
</body>
</html>
